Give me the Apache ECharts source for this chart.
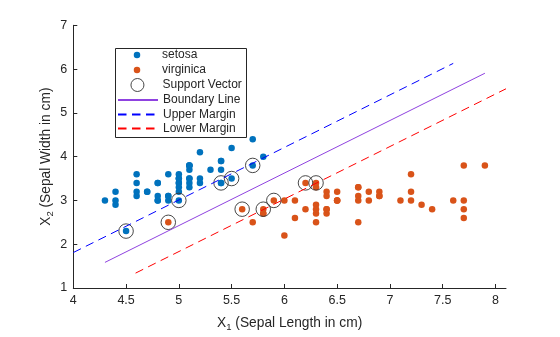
<!DOCTYPE html>
<html>
<head>
<meta charset="utf-8">
<script src="https://cdn.jsdelivr.net/npm/echarts@6/dist/echarts.min.js"></script>
<style>html,body{margin:0;padding:0;background:#fff}#c{width:560px;height:337px}</style>
</head>
<body>
<div id="c"></div>
<script>
// ---- data (Sepal length / width) ----
const setosaX = [5.1,4.9,4.7,4.6,5.0,5.4,4.6,5.0,4.4,4.9,5.4,4.8,4.8,4.3,5.8,5.7,5.4,5.1,5.7,5.1,5.4,5.1,4.6,5.1,4.8,5.0,5.0,5.2,5.2,4.7,4.8,5.4,5.2,5.5,4.9,5.0,5.5,4.9,4.4,5.1,5.0,4.5,4.4,5.0,5.1,4.8,5.1,4.6,5.3,5.0];
const setosaY = [3.5,3.0,3.2,3.1,3.6,3.9,3.4,3.4,2.9,3.1,3.7,3.4,3.0,3.0,4.0,4.4,3.9,3.5,3.8,3.8,3.4,3.7,3.6,3.3,3.4,3.0,3.4,3.5,3.4,3.2,3.1,3.4,4.1,4.2,3.1,3.2,3.5,3.6,3.0,3.4,3.5,2.3,3.2,3.5,3.8,3.0,3.8,3.2,3.7,3.3];
const virginicaX = [6.3,5.8,7.1,6.3,6.5,7.6,4.9,7.3,6.7,7.2,6.5,6.4,6.8,5.7,5.8,6.4,6.5,7.7,7.7,6.0,6.9,5.6,7.7,6.3,6.7,7.2,6.2,6.1,6.4,7.2,7.4,7.9,6.4,6.3,6.1,7.7,6.3,6.4,6.0,6.9,6.7,6.9,5.8,6.8,6.7,6.7,6.3,6.5,6.2,5.9];
const virginicaY = [3.3,2.7,3.0,2.9,3.0,3.0,2.5,2.9,2.5,3.6,3.2,2.7,3.0,2.5,2.8,3.2,3.0,3.8,2.6,2.2,3.2,2.8,2.8,2.7,3.3,3.2,2.8,3.0,2.8,3.0,2.8,3.8,2.8,2.8,2.6,3.0,3.4,3.1,3.0,3.1,3.1,3.1,2.7,3.2,3.3,3.0,2.5,3.0,3.4,3.0];
const svX = [4.5,4.9,5.0,5.4,5.5,5.7,5.6,5.8,5.9,6.2,6.3];
const svY = [2.3,2.5,3.0,3.4,3.5,3.8,2.8,2.8,3.0,3.4,3.4];
const boundaryX = [4.3, 7.9];
const boundaryY = [1.585, 5.905];
const upperX = [4.0, 7.6];
const upperY = [1.81, 6.13];
const lowerX = [4.59, 8.1];
const lowerY = [1.34, 5.55];
const xTicks = [4,4.5,5,5.5,6,6.5,7,7.5,8];
const yTicks = [1,2,3,4,5,6,7];
const legendNames = ['setosa','virginica','Support Vector','Boundary Line','Upper Margin','Lower Margin'];

const zip = (a, b) => a.map((v, i) => [v, b[i]]);
const F = '"Liberation Sans", Arial, Helvetica, sans-serif';
const AX = '#262626';
const ICON_W = 40;

function mkLegend(name, cy, h, isSymbol) {
  const left = 117 + (isSymbol ? (ICON_W - h) / 2 : 0);
  const item = { name: name };
  if (name === 'Support Vector') {
    item.itemStyle = { color: 'rgba(0,0,0,0)', borderColor: '#333', borderWidth: 0.9 };
  }
  return {
    data: [item], left: left, top: cy - 7, orient: 'vertical', padding: 0,
    itemWidth: ICON_W, itemHeight: h, selectedMode: false, z: 110,
    textStyle: { fontSize: 12, color: AX, fontFamily: F, lineHeight: 14 }
  };
}
const legendY = [55, 70, 85, 100, 114.5, 128.5];
const legendH = [6.5, 6.5, 13, 14, 14, 14];
const legendSym = [true, true, true, false, false, false];

const nameStyle = { color: AX, fontSize: 13.75, fontFamily: F, lineHeight: 18,
  rich: { s: { fontSize: 9.5, lineHeight: 9.5, verticalAlign: 'bottom', color: AX, fontFamily: F } } };

const chart = echarts.init(document.getElementById('c'), null, { renderer: 'canvas' });
chart.setOption({
  animation: false,
  backgroundColor: '#fff',
  textStyle: { fontFamily: F },
  grid: { left: 73.3, right: 54, top: 25.3, bottom: 41.3, containLabel: false },
  graphic: [{
    type: 'rect', shape: { x: 115.5, y: 48.5, width: 131, height: 89 },
    style: { fill: '#fff', stroke: AX, lineWidth: 1 }, z: 100, silent: true
  }],
  legend: legendNames.map((n, i) => mkLegend(n, legendY[i], legendH[i], legendSym[i])),
  xAxis: {
    type: 'value', min: 4, max: 8.1,
    axisLine: { onZero: false, lineStyle: { color: AX, width: 1 } },
    axisTick: { inside: true, length: 4, lineStyle: { color: AX }, customValues: xTicks },
    axisLabel: { color: AX, fontSize: 12.5, fontFamily: F, margin: 6, customValues: xTicks,
      formatter: v => String(v) },
    splitLine: { show: false },
    name: 'X{s|1} (Sepal Length in cm)', nameLocation: 'middle', nameGap: 26, nameMoveOverlap: false,
    nameTextStyle: nameStyle
  },
  yAxis: {
    type: 'value', min: 1, max: 7, interval: 1,
    axisLine: { onZero: false, lineStyle: { color: AX, width: 1 } },
    axisTick: { inside: true, length: 4, lineStyle: { color: AX }, customValues: yTicks },
    axisLabel: { color: AX, fontSize: 12.5, fontFamily: F, margin: 6, customValues: yTicks },
    splitLine: { show: false },
    name: 'X{s|2} (Sepal Width in cm)', nameLocation: 'middle', nameGap: 18, nameMoveOverlap: false,
    nameTextStyle: nameStyle
  },
  series: [
    { name: 'setosa', type: 'scatter', data: zip(setosaX, setosaY), symbol: 'circle', symbolSize: 6.5,
      itemStyle: { color: '#0072BD', opacity: 1 }, silent: true },
    { name: 'virginica', type: 'scatter', data: zip(virginicaX, virginicaY), symbol: 'circle', symbolSize: 6.5,
      itemStyle: { color: '#D95319', opacity: 1 }, silent: true },
    { name: 'Support Vector', type: 'scatter', data: zip(svX, svY), symbol: 'circle', symbolSize: 14.5,
      itemStyle: { color: 'rgba(0,0,0,0)', borderColor: '#333', borderWidth: 0.9, opacity: 1 }, silent: true },
    { name: 'Boundary Line', type: 'line', data: zip(boundaryX, boundaryY), symbol: 'none', showSymbol: false,
      lineStyle: { color: '#8F42E0', width: 1 }, itemStyle: { color: 'rgba(0,0,0,0)', borderWidth: 0 }, silent: true },
    { name: 'Upper Margin', type: 'line', data: zip(upperX, upperY), symbol: 'none', showSymbol: false,
      lineStyle: { color: '#0000FF', width: 1, type: [8.5, 5.5] }, itemStyle: { color: 'rgba(0,0,0,0)', borderWidth: 0 }, silent: true },
    { name: 'Lower Margin', type: 'line', data: zip(lowerX, lowerY), symbol: 'none', showSymbol: false,
      lineStyle: { color: '#FF0000', width: 1, type: [8.5, 5.5] }, itemStyle: { color: 'rgba(0,0,0,0)', borderWidth: 0 }, silent: true }
  ]
});
</script>
</body>
</html>
